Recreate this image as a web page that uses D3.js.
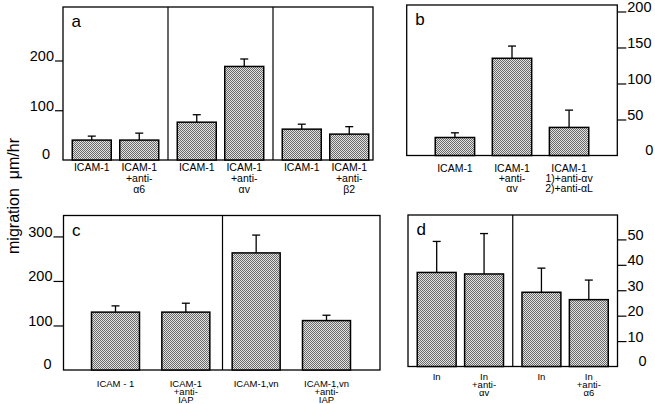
<!DOCTYPE html>
<html><head><meta charset="utf-8">
<script src="https://cdn.jsdelivr.net/npm/d3@7"></script>
<style>body{margin:0;background:#fff} svg{display:block}</style>
</head><body>
<svg id="chart" width="655" height="404"></svg>
<script>
// ---- Panel a ----
const catsA = [["ICAM-1"],["ICAM-1","+anti-","α6"],["ICAM-1"],["ICAM-1","+anti-","αv"],["ICAM-1"],["ICAM-1","+anti-","β2"]];
const groupsA = [0,0,1,1,2,2];
const valsA = [40, 40, 76, 188, 62, 52];
const errA  = [48, 54, 91, 203, 72, 67];
const ticksA = [0, 100, 200];
// ---- Panel b ----
const catsB = [["ICAM-1"],["ICAM-1","+anti-","αv"],["ICAM-1","1)+anti-αv","2)+anti-αL"]];
const valsB = [25, 135, 39];
const errB  = [31.5, 152, 63];
const ticksB = [0, 50, 100, 150, 200];
// ---- Panel c ----
const catsC = [["ICAM - 1"],["ICAM-1","+anti-","IAP"],["ICAM-1,vn"],["ICAM-1,vn","+anti-","IAP"]];
const groupsC = [0,0,1,1];
const valsC = [130, 130, 263, 111];
const errC  = [144, 150, 303, 123];
const ticksC = [0, 100, 200, 300];
// ---- Panel d ----
const catsD = [["In"],["In","+anti-","αv"],["In"],["In","+anti-","α6"]];
const groupsD = [0,0,1,1];
const valsD = [37, 36.4, 29.2, 26.3];
const errD  = [49.2, 52.3, 38.7, 34];
const ticksD = [0, 10, 20, 30, 40, 50];

const yTitle = "migration  μm/hr";

const svg = d3.select("#chart");
const FONT = "Liberation Sans, Arial, Helvetica, sans-serif";
const NARROW = "'Liberation Sans Narrow', 'Arial Narrow', Liberation Sans, Arial, sans-serif";

// stipple pattern
const defs = svg.append("defs");
const pat = defs.append("pattern").attr("id","stip").attr("patternUnits","userSpaceOnUse")
  .attr("width",2).attr("height",2);
pat.append("rect").attr("width",2).attr("height",2).attr("fill","#e2e2e2");
pat.append("rect").attr("x",0).attr("y",0).attr("width",1).attr("height",1).attr("fill","#6a6a6a");
pat.append("rect").attr("x",1).attr("y",1).attr("width",1).attr("height",1).attr("fill","#6a6a6a");

function drawPanel(cfg) {
  const {x0, x1, y0, y1, ymax, vals, errs, cats, xpos, dividers, side, ticks, tickLen, letter, lineH, labelTop, labelSize, zeroDx} = cfg;
  const g = svg.append("g");
  const y = d3.scaleLinear().domain([0, ymax]).range([y1, y0]);

  // frame
  g.append("rect").attr("x", x0).attr("y", y0).attr("width", x1 - x0).attr("height", y1 - y0)
    .attr("fill", "none").attr("stroke", "#000").attr("stroke-width", 1.3);
  dividers.forEach(dx => g.append("line").attr("x1", dx).attr("x2", dx).attr("y1", y0).attr("y2", y1)
    .attr("stroke", "#000").attr("stroke-width", 1.2));

  // bars
  const data = vals.map((v, i) => ({v, e: errs[i], c: cats[i], i, ...xpos(i)}));
  g.selectAll("rect.bar").data(data).join("rect").attr("class", "bar")
    .attr("x", d => d.x).attr("width", d => d.w)
    .attr("y", d => y(d.v)).attr("height", d => y(0) - y(d.v))
    .attr("fill", "url(#stip)").attr("stroke", "#000").attr("stroke-width", 1.5);

  // error bars
  g.selectAll("line.err").data(data).join("line").attr("class", "err")
    .attr("x1", d => d.x + d.w / 2).attr("x2", d => d.x + d.w / 2)
    .attr("y1", d => y(d.v)).attr("y2", d => y(d.e))
    .attr("stroke", "#000").attr("stroke-width", 1.3);
  g.selectAll("line.cap").data(data).join("line").attr("class", "cap")
    .attr("x1", d => d.x + d.w / 2 - 4).attr("x2", d => d.x + d.w / 2 + 4)
    .attr("y1", d => y(d.e)).attr("y2", d => y(d.e))
    .attr("stroke", "#000").attr("stroke-width", 1.3);

  // category labels
  const lab = g.selectAll("text.cat").data(data).join("text").attr("class", "cat")
    .attr("text-anchor", "middle").attr("font-family", NARROW).attr("font-size", labelSize).attr("fill", "#000");
  lab.selectAll("tspan").data(d => d.c.map(t => ({t, cx: d.x + d.w / 2}))).join("tspan")
    .attr("x", d => d.cx).attr("y", (d, k) => labelTop + k * lineH).text(d => d.t);

  // axis
  const axis = (side === "left" ? d3.axisLeft(y) : d3.axisRight(y))
    .tickValues(ticks).tickSize(tickLen).tickPadding(1).tickFormat(d3.format("d"));
  const ax = g.append("g").attr("transform", `translate(${side === "left" ? x0 : x1},0)`).call(axis);
  ax.select(".domain").remove();
  ax.selectAll(".tick line").attr("stroke", "#000").attr("stroke-width", 1.2);
  ax.selectAll(".tick text").attr("dy", "0").attr("y", 0).attr("font-family", FONT)
    .attr("font-size", 14.5).attr("fill", "#000");
  ax.selectAll(".tick").filter(d => d === 0).each(function() {
    const t = d3.select(this);
    t.select("line").remove();
    t.select("text").attr("dy", "-1.5").attr("x", (side === "left" ? -tickLen - 1 : tickLen + 1) + zeroDx);
  });

  // panel letter
  g.append("text").attr("x", x0 + 8.5).attr("y", y0 + 20).attr("font-family", FONT)
    .attr("font-size", 17).attr("fill", "#000").text(letter);
}

// Panel a layout: group band + inner band
const outerA = d3.scaleBand().domain([0,1,2]).range([63, 378]).padding(0);
const innerA = d3.scaleBand().domain([0,1]).range([0, outerA.bandwidth()]).paddingInner(0.179).paddingOuter(0.195);
drawPanel({
  x0: 63, x1: 373, y0: 7, y1: 160, ymax: 307.5,
  vals: valsA, errs: errA, cats: catsA,
  xpos: i => ({x: outerA(groupsA[i]) + innerA(i % 2), w: innerA.bandwidth()}),
  dividers: [outerA(1), outerA(2)], side: "left", ticks: ticksA, tickLen: 8,
  letter: "a", lineH: 11.2, labelTop: 171, labelSize: 10.5, zeroDx: -4
});

// Panel b
const xB = d3.scaleBand().domain(d3.range(catsB.length)).range([406.7, 617.3]).paddingInner(0.31).paddingOuter(0.5);
drawPanel({
  x0: 406.7, x1: 617.3, y0: 5, y1: 155.5, ymax: 209,
  vals: valsB, errs: errB, cats: catsB,
  xpos: i => ({x: xB(i), w: xB.bandwidth()}),
  dividers: [], side: "right", ticks: ticksB, tickLen: 9,
  letter: "b", lineH: 10.3, labelTop: 171.5, labelSize: 10.5, zeroDx: 18
});

// Panel c
const xC = d3.scaleBand().domain(d3.range(catsC.length)).range([91.5, 350.5]).paddingInner(0.3175).paddingOuter(0);
drawPanel({
  x0: 63.5, x1: 380, y0: 215.5, y1: 370, ymax: 347,
  vals: valsC, errs: errC, cats: catsC,
  xpos: i => ({x: xC(i), w: xC.bandwidth()}),
  dividers: [(xC(1) + xC.bandwidth() + xC(2)) / 2 + 1.5], side: "left", ticks: ticksC, tickLen: 10,
  letter: "c", lineH: 8.2, labelTop: 386.5, labelSize: 9.5, zeroDx: -1
});

// Panel d
const outerD = d3.scaleBand().domain([0,1]).range([408, 617.5]).padding(0);
const innerD = d3.scaleBand().domain([0,1]).range([0, outerD.bandwidth()]).paddingInner(0.179).paddingOuter(0.195);
drawPanel({
  x0: 408, x1: 617.5, y0: 215, y1: 366.5, ymax: 59.6,
  vals: valsD, errs: errD, cats: catsD,
  xpos: i => ({x: outerD(groupsD[i]) + innerD(i % 2), w: innerD.bandwidth()}),
  dividers: [outerD(1)], side: "right", ticks: ticksD, tickLen: 9,
  letter: "d", lineH: 8.4, labelTop: 379.5, labelSize: 9.5, zeroDx: 11
});

// y title
svg.append("text").attr("transform", "translate(19,196) rotate(-90)")
  .attr("text-anchor", "middle").attr("font-family", FONT).attr("font-size", 16).attr("fill", "#000")
  .attr("xml:space", "preserve").style("white-space", "pre").text(yTitle);
</script>
</body></html>
